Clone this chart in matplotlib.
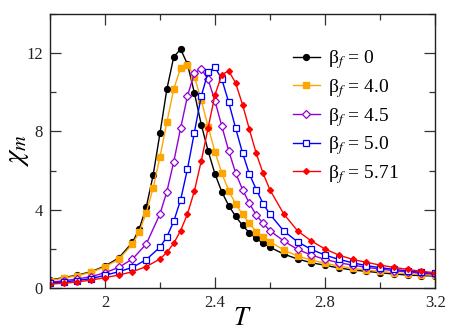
import matplotlib
matplotlib.use("Agg")
import matplotlib.pyplot as plt
from matplotlib.ticker import MultipleLocator

plt.rcParams['font.family'] = ['Liberation Serif', 'DejaVu Serif']
plt.rcParams['mathtext.fontset'] = 'stix'

# temperature grids (finer steps around the peak)
T_a = [1.8, 1.85, 1.9, 1.95, 2.0, 2.05, 2.1, 2.125, 2.15, 2.175, 2.2, 2.225, 2.25,
       2.275, 2.3, 2.325, 2.35, 2.375, 2.4, 2.425, 2.45, 2.475, 2.5, 2.525, 2.55,
       2.575, 2.6, 2.65, 2.7, 2.75, 2.8, 2.85, 2.9, 2.95, 3.0, 3.05, 3.1, 3.15, 3.2]
T_b = [1.8, 1.85, 1.9, 1.95, 2.0, 2.05, 2.1, 2.15, 2.2, 2.225, 2.25,
       2.275, 2.3, 2.325, 2.35, 2.375, 2.4, 2.425, 2.45, 2.475, 2.5, 2.525, 2.55,
       2.575, 2.6, 2.65, 2.7, 2.75, 2.8, 2.85, 2.9, 2.95, 3.0, 3.05, 3.1, 3.15, 3.2]

chi_0 = [0.41, 0.53, 0.66, 0.83, 1.12, 1.53, 2.33, 3.03, 4.12, 5.75, 7.9, 10.15, 11.8,
         12.2, 11.43, 9.97, 8.35, 7.0, 5.82, 4.9, 4.2, 3.66, 3.2, 2.82, 2.53,
         2.28, 2.08, 1.73, 1.48, 1.29, 1.16, 1.02, 0.92, 0.85, 0.78, 0.71, 0.66, 0.63, 0.61]
chi_40 = [0.38, 0.5, 0.63, 0.8, 1.08, 1.46, 2.24, 2.87, 3.84, 5.09, 6.7, 8.46, 10.15,
          11.25, 11.41, 10.8, 9.6, 8.23, 6.95, 5.85, 4.96, 4.29, 3.76, 3.3, 2.87,
          2.59, 2.36, 1.94, 1.63, 1.43, 1.26, 1.12, 1.0, 0.92, 0.85, 0.78, 0.72, 0.68, 0.65]
chi_45 = [0.29, 0.37, 0.46, 0.58, 0.78, 1.05, 1.48, 2.24, 3.78, 4.92, 6.44,
          8.16, 9.81, 10.97, 11.2, 10.65, 9.55, 8.25, 7.0, 5.88, 5.03, 4.32, 3.72,
          3.3, 2.92, 2.4, 1.97, 1.68, 1.46, 1.29, 1.17, 1.05, 0.97, 0.88, 0.82, 0.75, 0.7]
chi_50 = [0.25, 0.31, 0.38, 0.48, 0.65, 0.83, 1.05, 1.45, 2.08, 2.61, 3.4,
          4.5, 6.08, 7.94, 9.8, 11.02, 11.28, 10.65, 9.48, 8.16, 6.9, 5.82, 5.03,
          4.3, 3.76, 2.91, 2.36, 1.97, 1.68, 1.46, 1.29, 1.14, 1.04, 0.95, 0.87, 0.8, 0.75]
chi_571 = [0.2, 0.24, 0.31, 0.4, 0.53, 0.66, 0.83, 1.09, 1.48, 1.82, 2.28,
           2.93, 3.78, 4.95, 6.48, 8.18, 9.87, 10.9, 11.09, 10.47, 9.37, 8.1, 6.87,
           5.85, 5.0, 3.78, 2.92, 2.4, 1.99, 1.68, 1.46, 1.31, 1.17, 1.05, 0.95, 0.85, 0.78]

labels = ['β$_f$ = 0', 'β$_f$ = 4.0', 'β$_f$ = 4.5', 'β$_f$ = 5.0', 'β$_f$ = 5.71']

fig = plt.figure(figsize=(4.58, 3.31), dpi=100)
ax = fig.add_axes([0.109, 0.130, 0.841, 0.828])

ax.plot(T_a, chi_0, color='black', lw=1, marker='o', ms=4.2, label=labels[0])
ax.plot(T_a, chi_40, color='#FFA500', lw=1, marker='s', ms=4.2, label=labels[1])
ax.plot(T_b, chi_45, color='#9400D3', lw=1, marker='D', ms=3.6, mfc='white',
        mew=0.9, label=labels[2])
ax.plot(T_b, chi_50, color='#0000FF', lw=1, marker='s', ms=4.2, mfc='white',
        mew=0.9, label=labels[3])
ax.plot(T_b, chi_571, color='#FF0000', lw=1, marker='D', ms=3.0, label=labels[4])

ax.set_xlim(1.8, 3.2)
ax.set_ylim(0, 14)
ax.xaxis.set_minor_locator(MultipleLocator(0.2))
ax.yaxis.set_major_locator(MultipleLocator(4))
ax.yaxis.set_minor_locator(MultipleLocator(2))
ax.set_xticks([2.0, 2.4, 2.8, 3.2])
ax.set_xticklabels(['2', '2.4', '2.8', '3.2'])
ax.tick_params(which='both', direction='in', top=True, right=True,
               labelsize=12, width=0.9, color='#333333', labelcolor='#222222')
ax.tick_params(which='major', length=8, pad=5)
ax.tick_params(which='minor', length=4)
for s in ax.spines.values():
    s.set_linewidth(1.0)
    s.set_color('#222222')

ax.set_xlabel(r'$T$', fontsize=19, labelpad=-2)
ax.set_ylabel(r'$\chi_m$', fontsize=21)
ax.yaxis.set_label_coords(-0.05, 0.5)

ax.legend(loc='upper left', bbox_to_anchor=(0.63, 0.875), frameon=False,
          fontsize=14, handlelength=1.4, handletextpad=0.4, labelspacing=0.3,
          borderaxespad=0.0, borderpad=0.0)

fig.savefig('out.png', dpi=100)
